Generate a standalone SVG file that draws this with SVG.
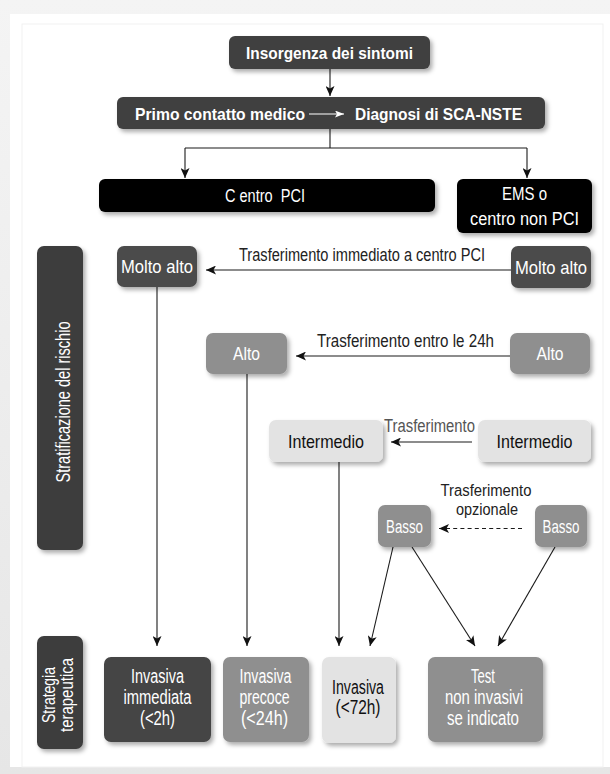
<svg xmlns="http://www.w3.org/2000/svg" width="610" height="774" viewBox="0 0 610 774">
  <defs>
    <filter id="shadow" x="-20%" y="-20%" width="150%" height="160%">
      <feDropShadow dx="2.5" dy="3" stdDeviation="2.2" flood-color="#000" flood-opacity="0.32"/>
    </filter>
    <linearGradient id="edgeTop" x1="0" y1="0" x2="0" y2="1">
      <stop offset="0" stop-color="#f4f4f4"/>
      <stop offset="1" stop-color="#e6e6e6"/>
    </linearGradient>
    <marker id="arrow" markerUnits="userSpaceOnUse" markerWidth="10" markerHeight="9" refX="10" refY="4.5" orient="auto">
      <path d="M0,0 L10,4.5 L0,9 L2.5,4.5 z" fill="#111"/>
    </marker>
    <marker id="arrowWhite" markerUnits="userSpaceOnUse" markerWidth="9" markerHeight="7" refX="9" refY="3.5" orient="auto">
      <path d="M0,0 L9,3.5 L0,7 L2,3.5 z" fill="#fff"/>
    </marker>
  </defs>
  <style>
    .box { filter: url(#shadow); }
    .dark { fill: #404040; }
    .darker { fill: #3c3c3c; }
    .black { fill: #050505; }
    .risk1 { fill: #4b4b4b; }
    .mid { fill: #8f8f8f; }
    .light { fill: #e3e3e3; }
    text { font-family: "Liberation Sans Narrow", "Liberation Sans", Arial, sans-serif; }
    .w { fill: #fff; }
    .k { fill: #111; }
    .b { font-weight: bold; }
    .c { text-anchor: middle; }
    .t17 { font-size: 17px; }
    .t18 { font-size: 18px; }
    .t19 { font-size: 19px; }
    .t20 { font-size: 20px; }
    .lbl { fill: #222; font-size: 17.5px; }
    .sm { font-size: 16px; }
    .ln { stroke: #1a1a1a; stroke-width: 1.1; fill: none; }
    .to { marker-end: url(#arrow); }
    .dash { stroke-dasharray: 4 3.2; }
    .pre { white-space: pre; }
  </style>

  <!-- page background and panel -->
  <rect x="0" y="0" width="610" height="774" fill="url(#edgeTop)"/>
  <rect x="10" y="14" width="600" height="753" fill="#ffffff"/>
  <rect x="22" y="24" width="581" height="743" fill="none" stroke="#f1f1f1" stroke-width="1"/>

  <!-- connectors -->
  <g id="connectors">
    <path class="ln to" d="M330,69 V96"/>
    <path class="ln" d="M330,129 V148 M185,148 H527"/>
    <path class="ln to" d="M185,148 V178"/>
    <path class="ln to" d="M527,148 V178"/>
    <path class="ln to" d="M511,270 H206"/>
    <path class="ln to" d="M510,356 H296"/>
    <path class="ln to" d="M472,442 H391"/>
    <path class="ln to dash" d="M522,528.5 H439"/>
    <path class="ln to" d="M157,287 V646"/>
    <path class="ln to" d="M247,374 V646"/>
    <path class="ln to" d="M339,462 V646"/>
    <path class="ln to" d="M393,547 L370,646"/>
    <path class="ln to" d="M412,547 L475,646"/>
    <path class="ln to" d="M555,547 L498,646"/>
  </g>

  <!-- transfer labels -->
  <g id="labels">
    <text class="lbl c" x="362" y="261" textLength="246" lengthAdjust="spacingAndGlyphs">Trasferimento immediato a centro PCI</text>
    <text class="lbl" x="317" y="347" textLength="177" lengthAdjust="spacingAndGlyphs">Trasferimento entro le 24h</text>
    <text class="lbl" x="384" y="432" style="fill:#555" textLength="91" lengthAdjust="spacingAndGlyphs">Trasferimento</text>
    <text class="lbl sm c" x="486" y="496" textLength="91" lengthAdjust="spacingAndGlyphs">Trasferimento</text>
    <text class="lbl sm c" x="487" y="515" textLength="62" lengthAdjust="spacingAndGlyphs">opzionale</text>
  </g>

  <!-- top flow -->
  <g id="onset">
    <rect class="box dark" x="229" y="36" width="201" height="33" rx="6"/>
    <text class="w b t17 c" x="329.5" y="58.5" textLength="167" lengthAdjust="spacingAndGlyphs">Insorgenza dei sintomi</text>
  </g>
  <g id="first-contact">
    <rect class="box dark" x="117" y="97" width="428" height="32" rx="6"/>
    <text class="w b t17" x="135" y="119.5" textLength="170" lengthAdjust="spacingAndGlyphs">Primo contatto medico</text>
    <path d="M309,114 H344" stroke="#fff" stroke-width="1.2" marker-end="url(#arrowWhite)"/>
    <text class="w b t17" x="355" y="119.5" textLength="167" lengthAdjust="spacingAndGlyphs">Diagnosi di SCA-NSTE</text>
  </g>
  <g id="pci-center">
    <rect class="box black" x="99" y="179" width="336" height="33" rx="6"/>
    <text class="w t18 c pre" x="265" y="202" textLength="80" lengthAdjust="spacingAndGlyphs">C entro  PCI</text>
  </g>
  <g id="non-pci-center">
    <rect class="box black" x="457" y="179" width="135" height="54" rx="6"/>
    <text class="w t18 c" x="524.5" y="200" textLength="45" lengthAdjust="spacingAndGlyphs">EMS o</text>
    <text class="w t18 c" x="524.5" y="225" textLength="109" lengthAdjust="spacingAndGlyphs">centro non PCI</text>
  </g>

  <!-- side headers -->
  <g id="risk-header">
    <rect class="box darker" x="37" y="246" width="46" height="304" rx="7"/>
    <text class="w t20 c" transform="translate(70,402) rotate(-90)" textLength="161" lengthAdjust="spacingAndGlyphs">Stratificazione del rischio</text>
  </g>
  <g id="strategy-header">
    <rect class="box darker" x="37" y="636" width="46" height="113" rx="7"/>
    <text class="w t18 c" transform="translate(55,695) rotate(-90)" textLength="56" lengthAdjust="spacingAndGlyphs">Strategia</text>
    <text class="w t18 c" transform="translate(73,695) rotate(-90)" textLength="74" lengthAdjust="spacingAndGlyphs">terapeutica</text>
  </g>

  <!-- risk levels, PCI centre side -->
  <g id="very-high-pci">
    <rect class="box risk1" x="117" y="246" width="80" height="41" rx="7"/>
    <text class="w t19 c" x="157" y="273" textLength="72" lengthAdjust="spacingAndGlyphs">Molto alto</text>
  </g>
  <g id="high-pci">
    <rect class="box mid" x="206" y="333" width="81" height="41" rx="7"/>
    <text class="w t19 c" x="246.5" y="360" textLength="27" lengthAdjust="spacingAndGlyphs">Alto</text>
  </g>
  <g id="intermediate-pci">
    <rect class="box light" x="269" y="420" width="114" height="42" rx="7"/>
    <text class="k t19 c" x="326" y="447.5" textLength="76" lengthAdjust="spacingAndGlyphs">Intermedio</text>
  </g>
  <g id="low-pci">
    <rect class="box mid" x="378" y="505" width="53" height="42" rx="7"/>
    <text class="w t19 c" x="404.5" y="532.5" textLength="37" lengthAdjust="spacingAndGlyphs">Basso</text>
  </g>

  <!-- risk levels, non-PCI side -->
  <g id="very-high-ems">
    <rect class="box risk1" x="511" y="246" width="80" height="42" rx="7"/>
    <text class="w t19 c" x="551" y="273.5" textLength="72" lengthAdjust="spacingAndGlyphs">Molto alto</text>
  </g>
  <g id="high-ems">
    <rect class="box mid" x="510" y="333" width="80" height="41" rx="7"/>
    <text class="w t19 c" x="550" y="360" textLength="27" lengthAdjust="spacingAndGlyphs">Alto</text>
  </g>
  <g id="intermediate-ems">
    <rect class="box light" x="478" y="420" width="113" height="42" rx="7"/>
    <text class="k t19 c" x="534.5" y="447.5" textLength="76" lengthAdjust="spacingAndGlyphs">Intermedio</text>
  </g>
  <g id="low-ems">
    <rect class="box mid" x="535" y="505" width="52" height="42" rx="7"/>
    <text class="w t19 c" x="561" y="532.5" textLength="37" lengthAdjust="spacingAndGlyphs">Basso</text>
  </g>

  <!-- treatment strategies -->
  <g id="immediate-invasive">
    <rect class="box" fill="#444" x="104" y="657" width="107" height="85" rx="7"/>
    <text class="w t20 c" x="157.5" y="683" textLength="53" lengthAdjust="spacingAndGlyphs">Invasiva</text>
    <text class="w t20 c" x="157.5" y="704" textLength="68" lengthAdjust="spacingAndGlyphs">immediata</text>
    <text class="w t20 c" x="157.5" y="725" textLength="35" lengthAdjust="spacingAndGlyphs">(&lt;2h)</text>
  </g>
  <g id="early-invasive">
    <rect class="box mid" x="223" y="657" width="86" height="85" rx="7"/>
    <text class="w t20 c" x="265.5" y="683" textLength="52" lengthAdjust="spacingAndGlyphs">Invasiva</text>
    <text class="w t20 c" x="264.5" y="704" textLength="50" lengthAdjust="spacingAndGlyphs">precoce</text>
    <text class="w t20 c" x="264.5" y="725" textLength="47" lengthAdjust="spacingAndGlyphs">(&lt;24h)</text>
  </g>
  <g id="invasive-72h">
    <rect class="box light" x="322" y="657" width="74" height="86" rx="7"/>
    <text class="k t20 c" x="358" y="694" textLength="52" lengthAdjust="spacingAndGlyphs">Invasiva</text>
    <text class="k t20 c" x="358" y="714" textLength="45" lengthAdjust="spacingAndGlyphs">(&lt;72h)</text>
  </g>
  <g id="non-invasive-tests">
    <rect class="box mid" x="428" y="657" width="115" height="85" rx="7"/>
    <text class="w t20 c" x="483" y="683" textLength="24" lengthAdjust="spacingAndGlyphs">Test</text>
    <text class="w t20 c" x="484" y="704" textLength="78" lengthAdjust="spacingAndGlyphs">non invasivi</text>
    <text class="w t20 c" x="483" y="725" textLength="72" lengthAdjust="spacingAndGlyphs">se indicato</text>
  </g>
</svg>
